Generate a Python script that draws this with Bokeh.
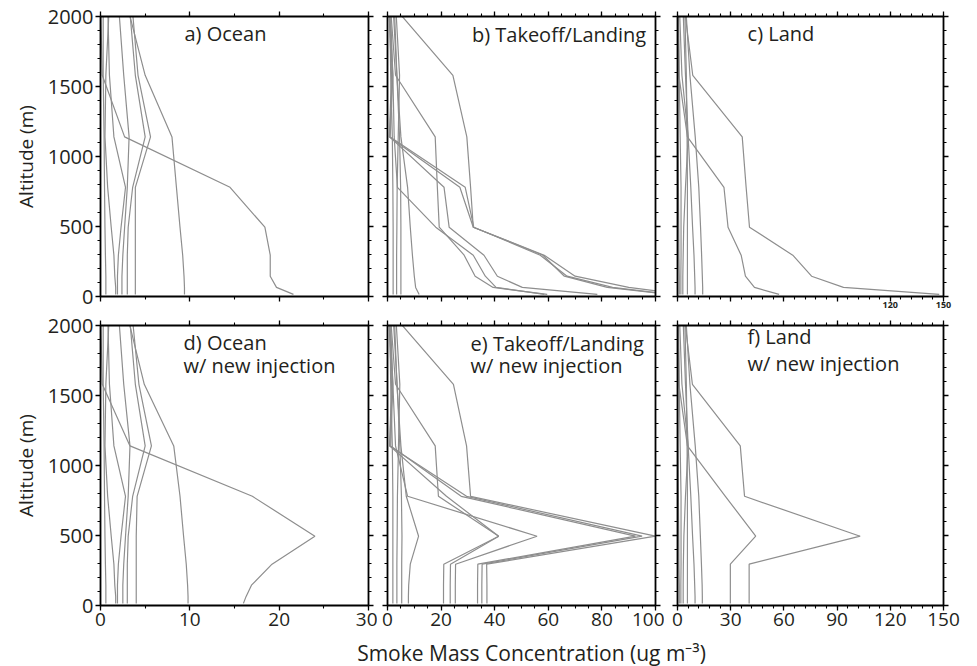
import numpy as np
from bokeh.plotting import figure
from bokeh.layouts import column, row
from bokeh.models import Range1d, FixedTicker, LinearAxis, Label
from bokeh.embed import file_html
from bokeh.resources import INLINE

# ---------------- data ----------------
# model altitude levels (m)
ALT = [15, 65, 145, 295, 495, 780, 1140, 1580, 2100]

# a) Ocean
OCEAN = [
    [21.6, 19.7, 19.0, 19.0, 18.4, 14.5, 2.7, 0.2, 0.0],
    [9.4, 9.4, 9.35, 9.2, 8.9, 8.5, 8.0, 5.0, 2.9],
    [3.9, 3.9, 3.9, 3.9, 3.9, 3.9, 5.6, 4.2, 3.5],
    [3.0, 3.0, 3.0, 3.0, 3.1, 3.6, 5.0, 3.9, 3.2],
    [2.4, 2.4, 2.4, 2.5, 2.7, 3.0, 3.2, 2.6, 2.0],
    [1.9, 1.9, 1.9, 2.0, 2.3, 2.8, 1.5, 1.0, 0.8],
    [1.7, 1.7, 1.6, 1.5, 1.2, 0.8, 0.5, 0.6, 1.0],
    [0.6, 0.6, 0.6, 0.55, 0.5, 0.45, 0.4, 0.3, 0.3],
]
# d) Ocean w/ new injection
OCEAN_INJ = [
    [16.0, 16.3, 16.9, 19.2, 24.0, 17.0, 3.3, 0.2, 0.0],
    [9.8, 9.8, 9.75, 9.6, 9.3, 8.9, 8.2, 4.9, 2.9],
    [4.0, 4.0, 4.0, 4.0, 4.0, 4.1, 5.7, 4.3, 3.5],
    [3.0, 3.0, 3.0, 3.0, 3.1, 3.6, 5.0, 3.9, 3.2],
    [2.5, 2.5, 2.5, 2.6, 2.8, 3.1, 3.3, 2.6, 2.0],
    [1.9, 1.9, 1.9, 2.0, 2.3, 2.8, 1.5, 1.0, 0.8],
    [1.7, 1.7, 1.6, 1.5, 1.2, 0.8, 0.5, 0.6, 1.0],
    [0.6, 0.6, 0.6, 0.55, 0.5, 0.45, 0.4, 0.3, 0.3],
]
# b) Takeoff/Landing
TAKEOFF = [
    [105.0, 82.0, 66.0, 58.0, 32.0, 31.0, 29.6, 24.4, 1.0],
    [110.0, 90.0, 70.0, 58.5, 32.0, 27.0, 0.7, 1.5, 0.5],
    [106.0, 84.0, 67.0, 57.0, 32.2, 29.0, 1.0, 2.0, 0.6],
    [59.6, 39.4, 32.7, 28.6, 19.3, 18.6, 17.8, 3.0, 1.0],
    [78.3, 50.3, 41.0, 36.0, 23.0, 21.1, 0.8, 1.8, 0.5],
    [58.5, 40.5, 36.5, 32.0, 18.0, 3.7, 2.5, 2.0, 1.0],
    [11.8, 10.5, 10.0, 9.3, 8.5, 7.5, 5.0, 3.5, 2.5],
    [5.0, 5.0, 5.0, 5.0, 5.0, 4.9, 4.5, 3.5, 2.0],
    [3.4, 3.4, 3.4, 3.4, 3.5, 3.6, 4.0, 4.5, 3.0],
    [2.1, 2.1, 2.1, 2.1, 2.1, 2.0, 1.8, 1.2, 0.8],
]
# e) Takeoff/Landing w/ new injection
TAKEOFF_INJ = [
    [37.1, 37.1, 37.1, 37.0, 100.0, 31.0, 29.5, 24.6, 1.0],
    [35.2, 35.2, 35.2, 35.3, 95.0, 29.5, 0.8, 1.5, 0.5],
    [33.6, 33.6, 33.6, 33.7, 92.5, 27.5, 1.2, 2.0, 0.6],
    [20.9, 20.9, 20.9, 21.0, 41.5, 19.0, 17.8, 3.0, 1.0],
    [23.4, 23.4, 23.4, 23.5, 41.5, 22.0, 0.8, 1.8, 0.5],
    [25.3, 25.3, 25.3, 25.4, 55.8, 7.5, 3.0, 2.0, 1.0],
    [7.8, 7.8, 7.9, 8.5, 11.6, 7.0, 5.0, 3.5, 2.5],
    [5.3, 5.3, 5.3, 5.3, 5.4, 5.2, 4.6, 3.6, 2.0],
    [3.5, 3.5, 3.5, 3.5, 3.6, 3.7, 4.1, 4.6, 3.0],
    [2.0, 2.0, 2.0, 2.0, 2.0, 2.0, 1.8, 1.2, 0.8],
]
# c) Land
LAND = [
    [147.6, 93.6, 75.6, 65.0, 40.6, 38.7, 36.5, 8.6, 3.5],
    [57.3, 43.4, 38.3, 35.9, 28.5, 26.2, 5.6, 0.8, 0.3],
    [14.2, 14.2, 14.0, 13.6, 13.0, 12.0, 10.0, 7.0, 4.5],
    [9.9, 9.9, 9.7, 9.3, 8.5, 7.5, 6.0, 4.5, 3.0],
    [5.6, 5.6, 5.6, 5.6, 5.6, 5.6, 5.4, 5.0, 4.0],
    [3.0, 3.0, 3.0, 3.2, 3.5, 4.5, 6.0, 2.5, 1.0],
    [1.9, 1.9, 1.9, 2.0, 2.0, 2.0, 1.5, 1.0, 0.5],
    [1.0, 1.0, 1.0, 0.8, 0.7, 0.5, 0.3, 0.2, 0.1],
]
# f) Land w/ new injection
LAND_INJ = [
    [40.4, 40.4, 40.4, 40.4, 103.0, 37.8, 35.4, 8.4, 3.5],
    [29.8, 29.8, 29.8, 29.8, 44.1, 27.0, 5.6, 0.8, 0.3],
    [14.0, 14.0, 13.9, 13.5, 12.9, 12.0, 10.0, 7.0, 4.5],
    [9.9, 9.9, 9.7, 9.3, 8.5, 7.5, 6.0, 4.5, 3.0],
    [5.6, 5.6, 5.6, 5.6, 5.6, 5.6, 5.4, 5.0, 4.0],
    [3.2, 3.2, 3.2, 3.3, 3.6, 4.5, 6.0, 2.5, 1.0],
    [1.9, 1.9, 1.9, 2.0, 2.0, 2.0, 1.5, 1.0, 0.5],
    [1.0, 1.0, 1.0, 0.8, 0.7, 0.5, 0.3, 0.2, 0.1],
]

Y_TICKS = [0, 500, 1000, 1500, 2000]
OCEAN_TICKS = [0, 10, 20, 30]
TAKEOFF_TICKS = [0, 20, 40, 60, 80, 100]
LAND_TICKS = [0, 30, 60, 90, 120, 150]

TITLES = {
    "a": ["a) Ocean"],
    "b": ["b) Takeoff/Landing"],
    "c": ["c) Land"],
    "d": ["d) Ocean", "w/ new injection"],
    "e": ["e) Takeoff/Landing", "w/ new injection"],
    "f": ["f) Land", "w/ new injection"],
}
Y_TITLE = "Altitude (m)"
X_TITLE = "Smoke Mass Concentration (ug m\u207b\u00b3)"

# ---------------- style ----------------
FONT = "Open Sans"
TXT = "#231f20"
LINE = "#8e8e8e"
XTICK_FS = "19px"
YTICK_FS = "20px"


def style_axis(ax, ticker, show_labels, label_size=XTICK_FS, overrides=None,
               standoff=2):
    ax.ticker = ticker
    ax.axis_line_color = "black"
    ax.axis_line_width = 1.8
    ax.major_tick_line_color = "black"
    ax.major_tick_line_width = 1.3
    ax.minor_tick_line_color = "black"
    ax.minor_tick_line_width = 1.1
    ax.major_tick_in = 0
    ax.major_tick_out = 5
    ax.minor_tick_in = 0
    ax.minor_tick_out = 3
    ax.major_label_text_font = FONT
    ax.major_label_text_color = TXT
    if show_labels:
        ax.major_label_text_font_size = label_size
        ax.major_label_standoff = standoff
        if overrides:
            ax.major_label_overrides = overrides
    else:
        ax.major_label_text_font_size = "0px"
        ax.major_label_standoff = 0
        ax.major_label_overrides = {t: "" for t in ticker.ticks}


def panel(lines, xmax, xticks, minor_step, width, height, borders,
          ylabels=False, xlabels=False, xlabel_overrides=None,
          xlabel_size=XTICK_FS, xlabel_standoff=2, ytitle=None,
          titles=(), title_x=0.0, title_y=()):
    p = figure(width=width, height=height, output_backend="svg",
               toolbar_location=None,
               x_range=Range1d(0, xmax), y_range=Range1d(0, 2000),
               min_border_left=borders[0], min_border_right=borders[1],
               min_border_top=borders[2], min_border_bottom=borders[3])
    p.grid.visible = False
    p.outline_line_color = None
    p.background_fill_color = "white"
    p.border_fill_color = "white"

    bottom = p.xaxis[0]
    left = p.yaxis[0]

    xminor = list(np.arange(0, xmax + 0.001, minor_step))
    yminor = list(range(0, 2001, 100))

    style_axis(bottom, FixedTicker(ticks=xticks, minor_ticks=xminor),
               xlabels, xlabel_size, xlabel_overrides, xlabel_standoff)
    style_axis(left, FixedTicker(ticks=Y_TICKS, minor_ticks=yminor), ylabels,
               YTICK_FS)
    top = LinearAxis()
    right = LinearAxis()
    style_axis(top, FixedTicker(ticks=xticks, minor_ticks=xminor), False)
    style_axis(right, FixedTicker(ticks=Y_TICKS, minor_ticks=yminor), False)
    p.add_layout(top, "above")
    p.add_layout(right, "right")

    if ytitle:
        left.axis_label = ytitle
        left.axis_label_text_font = FONT
        left.axis_label_text_font_size = "19px"
        left.axis_label_text_font_style = "normal"
        left.axis_label_text_color = TXT
        left.axis_label_standoff = 6

    for vals in lines:
        p.line(vals, ALT, line_color=LINE, line_width=1.2)

    for text, ty in zip(titles, title_y):
        p.add_layout(Label(x=title_x, y=ty, text=text, text_font=FONT,
                           text_font_size="20px", text_color=TXT,
                           text_baseline="middle", text_align="left"))
    return p, bottom


W = [377, 287, 313]
LR = [(100, 9), (10, 9), (13, 34)]
H1, H2, H3 = 313, 325, 28

pa, _ = panel(OCEAN, 30, OCEAN_TICKS, 5, W[0], H1, (*LR[0], 16, 17),
              ylabels=True, ytitle=Y_TITLE,
              titles=TITLES["a"], title_x=9.4, title_y=[1880])
pb, _ = panel(TAKEOFF, 100, TAKEOFF_TICKS, 5, W[1], H1, (*LR[1], 16, 17),
              titles=TITLES["b"], title_x=31.5, title_y=[1870])
pc, pc_bottom = panel(LAND, 150, LAND_TICKS, 6, W[2], H1, (*LR[2], 16, 17),
                      xlabels=True, xlabel_size="9px", xlabel_standoff=0,
                      xlabel_overrides={0: "", 30: "", 60: "", 90: ""},
                      titles=TITLES["c"], title_x=39.5, title_y=[1878])
pc_bottom.major_label_text_font_style = "bold"

pd, _ = panel(OCEAN_INJ, 30, OCEAN_TICKS, 5, W[0], H2, (*LR[0], 12, 33),
              ylabels=True, xlabels=True, ytitle=Y_TITLE,
              titles=TITLES["d"], title_x=9.3, title_y=[1880, 1715])
pe, _ = panel(TAKEOFF_INJ, 100, TAKEOFF_TICKS, 5, W[1], H2, (*LR[1], 12, 33),
              xlabels=True,
              titles=TITLES["e"], title_x=31, title_y=[1870, 1715])
pf, _ = panel(LAND_INJ, 150, LAND_TICKS, 6, W[2], H2, (*LR[2], 12, 33),
              xlabels=True,
              titles=TITLES["f"], title_x=39.5, title_y=[1925, 1730])

# shared x-axis title strip (coordinates in pixels of the strip)
ptitle = figure(width=977, height=H3, output_backend="svg",
                toolbar_location=None,
                x_range=Range1d(0, 977), y_range=Range1d(0, H3),
                min_border=0)
ptitle.axis.visible = False
ptitle.grid.visible = False
ptitle.outline_line_color = None
ptitle.add_layout(Label(x=531, y=H3 / 2, text=X_TITLE, text_font=FONT,
                        text_font_size="21px", text_color=TXT,
                        text_align="center", text_baseline="middle"))

layout = column(row(pa, pb, pc), row(pd, pe, pf), ptitle)

with open("out.html", "w") as f:
    f.write(file_html(layout, INLINE))
